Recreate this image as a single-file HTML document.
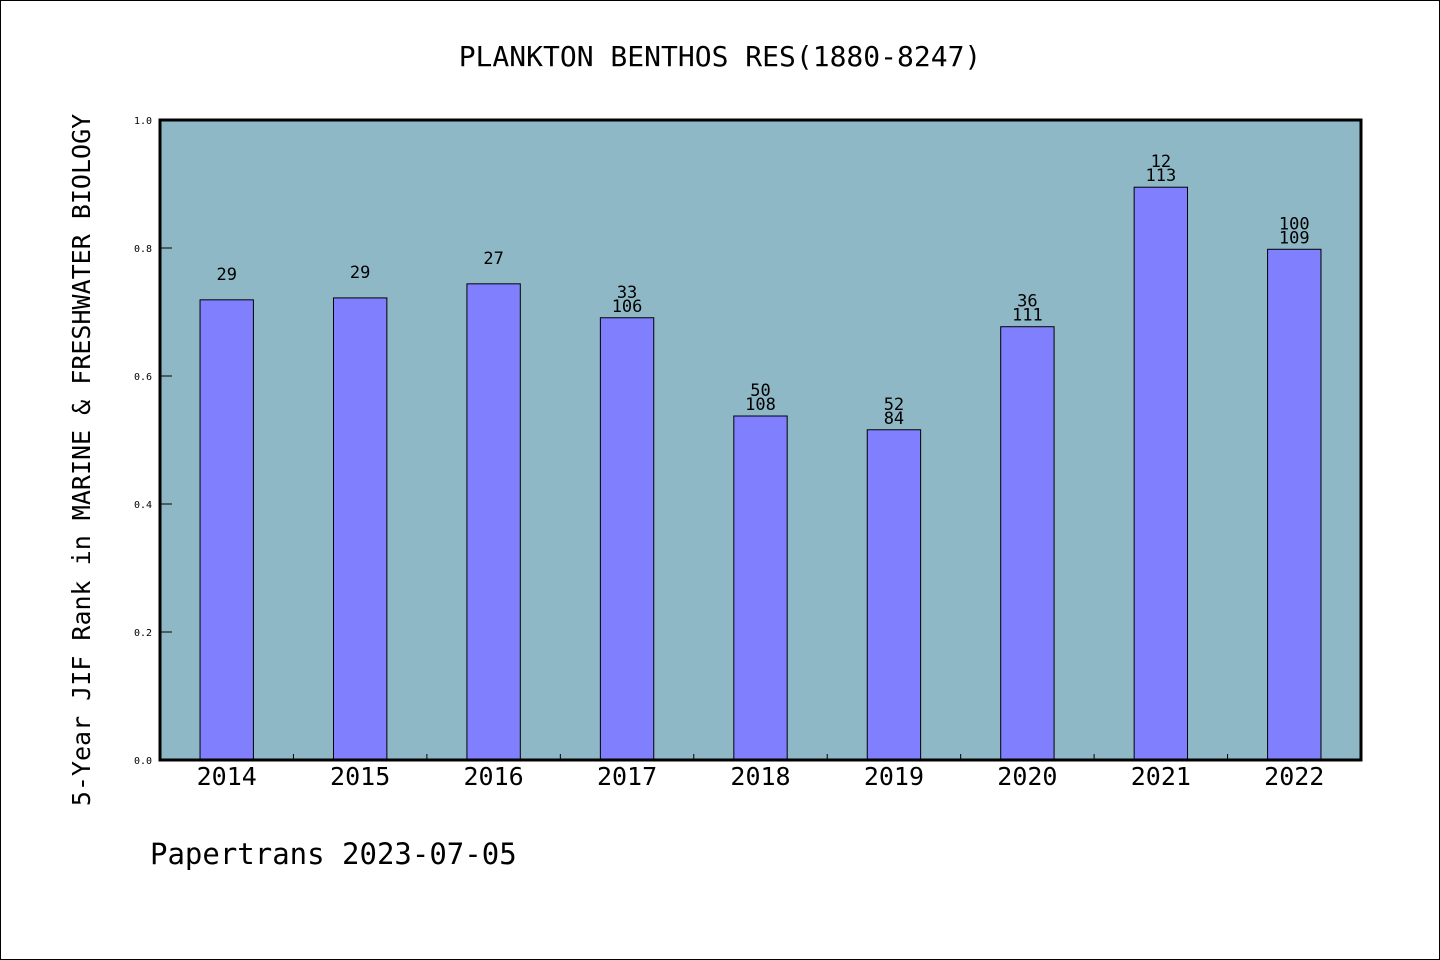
<!DOCTYPE html>
<html><head><meta charset="utf-8"><style>
html,body{margin:0;padding:0;background:#fff}
svg{display:block}
text{font-family:"WenQuanYi Zen Hei","DejaVu Sans Mono","Liberation Mono",monospace;fill:#000}
</style></head><body>
<svg id="chart" width="1440" height="960" xmlns="http://www.w3.org/2000/svg">
<rect x="0.5" y="0.5" width="1439" height="959" fill="#fff" stroke="#000"/>
<text x="720" y="66" font-size="28" text-anchor="middle">PLANKTON BENTHOS RES(1880-8247)</text>
<rect x="160" y="120" width="1201" height="640" fill="#8fb8c6"/>
<g id="bars"></g>
<rect x="160" y="120" width="1201" height="640" fill="none" stroke="#000" stroke-width="3"/>
<text transform="translate(90,460) rotate(-90)" font-size="25" text-anchor="middle">5-Year JIF Rank in MARINE &amp; FRESHWATER BIOLOGY</text>
<text x="150" y="864" font-size="29">Papertrans 2023-07-05</text>
</svg>
<script>
const categories=["2014","2015","2016","2017","2018","2019","2020","2021","2022"];
const values=[0.719,0.722,0.744,0.691,0.5375,0.516,0.677,0.895,0.798];
const labelTop=["29","29","27","33","50","52","36","12","100"];
const labelBottom=["","","","106","108","84","111","113","109"];
const yTicks=[0,0.2,0.4,0.6,0.8,1.0];
const tickLabels=["0.0","0.2","0.4","0.6","0.8","1.0"];
const NS="http://www.w3.org/2000/svg";
const L=160,R=1361,T=120,B=760;
const band=(R-L)/categories.length;
const xc=i=>L+band*(i+0.5);
const y=v=>B-(B-T)*v;
const g=document.getElementById('bars');
function mk(tag,attrs){const e=document.createElementNS(NS,tag);for(const k in attrs)e.setAttribute(k,attrs[k]);g.appendChild(e);return e;}
yTicks.forEach((t,i)=>{
  const l=mk('line',{x1:L,x2:L+12,y1:y(t),y2:y(t),stroke:'#000','stroke-width':1});
  
  
  const tx=mk('text',{x:L-8,y:y(t)+4,'font-size':10,'text-anchor':'end'});
  tx.textContent=tickLabels[i];
  
  
});
for(let i=1;i<categories.length;i++){
  const x=L+band*i;
  const l=mk('line',{x1:x,x2:x,y1:B,y2:B-6,stroke:'#000','stroke-width':1});
  
  
}
const bw=band*0.4;
categories.forEach((c,i)=>{
  const top=y(values[i]);
  const r=mk('rect',{x:xc(i)-bw/2,y:top,width:bw,height:B-top,fill:'#8080ff',stroke:'#000','stroke-width':1});
  
  
  const t1=mk('text',{x:xc(i),y:top-20,'font-size':17,'text-anchor':'middle'});
  t1.textContent=labelTop[i];
  
  
  if(labelBottom[i]){
    const t2=mk('text',{x:xc(i),y:top-6,'font-size':17,'text-anchor':'middle'});
    t2.textContent=labelBottom[i];
    
    
  }
  const xl=mk('text',{x:xc(i),y:785,'font-size':25,'text-anchor':'middle'});
  xl.textContent=c;
  
  
});
</script>
</body></html>
